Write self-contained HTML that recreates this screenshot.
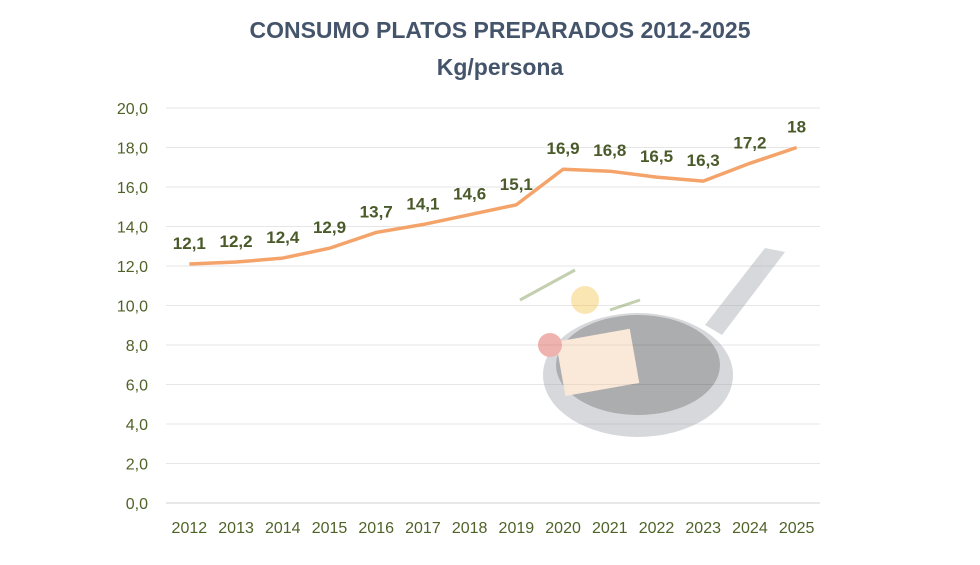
<!DOCTYPE html>
<html><head><meta charset="utf-8"><style>
body{margin:0;background:#fff;width:980px;height:560px;overflow:hidden;font-family:"Liberation Sans",sans-serif}
</style></head><body>
<svg id="c" width="980" height="560">
<text x="500" y="38" text-anchor="middle" font-size="23" font-weight="bold" fill="#44546a">CONSUMO PLATOS PREPARADOS 2012-2025</text>
<text x="500" y="75" text-anchor="middle" font-size="23" font-weight="bold" fill="#44546a">Kg/persona</text>
<g id="grid"></g>
<g opacity="0.4">
<ellipse cx="638" cy="375" rx="95" ry="62" fill="#9aa0a8"/>
<ellipse cx="638" cy="365" rx="82" ry="50" fill="#2f3438"/>
<path d="M705 325 L765 248 L785 252 L722 335Z" fill="#9aa0a8"/>
<rect x="560" y="335" width="75" height="55" fill="#f3c8a2" transform="rotate(-10 597 362)"/>
<circle cx="585" cy="300" r="14" fill="#f5c242"/>
<circle cx="550" cy="345" r="12" fill="#d9433a"/>
<path d="M520 300 L575 270 M610 310 L640 300" stroke="#6a8a3a" stroke-width="3"/>
</g>
<g id="marks"></g>
</svg>
<script>
const categories=["2012","2013","2014","2015","2016","2017","2018","2019","2020","2021","2022","2023","2024","2025"];
const values=[12.1,12.2,12.4,12.9,13.7,14.1,14.6,15.1,16.9,16.8,16.5,16.3,17.2,18];
const valueLabels=["12,1","12,2","12,4","12,9","13,7","14,1","14,6","15,1","16,9","16,8","16,5","16,3","17,2","18"];
const yTicks=[0,2,4,6,8,10,12,14,16,18,20];
const yTickLabels=["0,0","2,0","4,0","6,0","8,0","10,0","12,0","14,0","16,0","18,0","20,0"];
const NS="http://www.w3.org/2000/svg";
const L=166,R=820,T=108,B=503;
const bw=(R-L)/categories.length;
const x=i=>L+bw*(i+0.5);
const y=v=>B-(v/20)*(B-T);
const grid=document.getElementById('grid'),marks=document.getElementById('marks');
function mk(tag,attrs,parent,txt){const e=document.createElementNS(NS,tag);for(const k in attrs)e.setAttribute(k,attrs[k]);if(txt!==undefined)e.textContent=txt;parent.appendChild(e);return e;}
yTicks.forEach((t,i)=>{
 const g=mk('line',{x1:L,x2:R,y1:y(t),y2:y(t),stroke:i==0?'#d0d0d0':'#e6e6e6','stroke-width':1},grid);
 
 
 const tl=mk('text',{x:148,y:y(t)+6,'text-anchor':'end','font-size':16,fill:'#4f6228'},grid,yTickLabels[i]);
 
 
});
categories.forEach((c,i)=>{
 const tl=mk('text',{x:x(i),y:533,'text-anchor':'middle','font-size':16,fill:'#4f6228'},grid,c);
 
 
});
const pl=mk('polyline',{points:values.map((v,i)=>x(i)+','+y(v)).join(' '),fill:'none',stroke:'#f4a46a','stroke-width':3.5,'stroke-linejoin':'round'},marks);


values.forEach((v,i)=>{
 const t=mk('text',{x:x(i),y:y(v)-15,'text-anchor':'middle','font-size':17,'font-weight':'bold',fill:'#4a5a2a'},marks,valueLabels[i]);
 
 
});
</script>
</body></html>
